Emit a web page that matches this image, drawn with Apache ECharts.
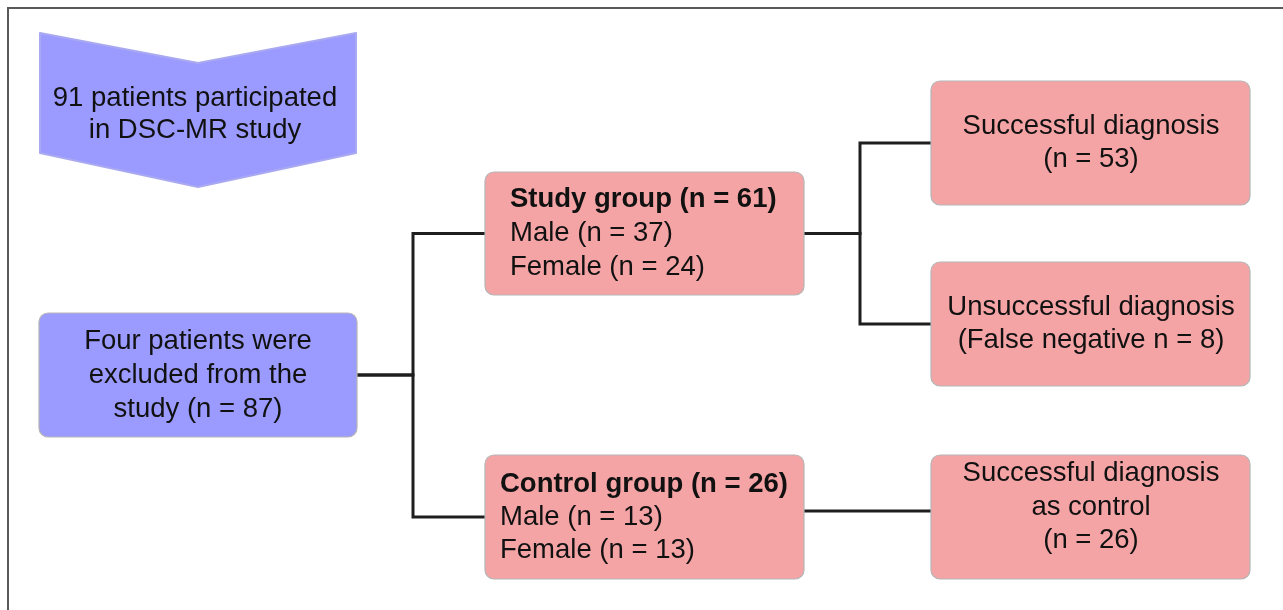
<!DOCTYPE html>
<html>
<head>
<meta charset="utf-8">
<script src="https://cdn.jsdelivr.net/npm/echarts@6/dist/echarts.min.js"></script>
<style>html,body{margin:0;padding:0;background:#fff}#c{width:1283px;height:610px}</style>
</head>
<body>
<div id="c"></div>
<script>
// ---- data (texts and counts) ----
const cohortText = ['91 patients participated', 'in DSC-MR study'];
const excludedText = ['Four patients were', 'excluded from the', 'study (n = 87)'];
const groupNames = ['Study group', 'Control group'];
const groupTotals = [61, 26];
const maleCounts = [37, 13];
const femaleCounts = [24, 13];
const outcomeLabels = [['Successful diagnosis'], ['Unsuccessful diagnosis'], ['Successful diagnosis', 'as control']];
const outcomePrefix = ['(n = ', '(False negative n = ', '(n = '];
const outcomeCounts = [53, 8, 26];

// ---- node texts built from data ----
const nodeTexts = [
  cohortText.join('\n'),
  excludedText.join('\n'),
  '{b|' + groupNames[0] + ' (n = ' + groupTotals[0] + ')}\nMale (n = ' + maleCounts[0] + ')\nFemale (n = ' + femaleCounts[0] + ')',
  '{b|' + groupNames[1] + ' (n = ' + groupTotals[1] + ')}\nMale (n = ' + maleCounts[1] + ')\nFemale (n = ' + femaleCounts[1] + ')',
  outcomeLabels[0].concat([outcomePrefix[0] + outcomeCounts[0] + ')']).join('\n'),
  outcomeLabels[1].concat([outcomePrefix[1] + outcomeCounts[1] + ')']).join('\n'),
  outcomeLabels[2].concat([outcomePrefix[2] + outcomeCounts[2] + ')']).join('\n')
];

// ---- layout (positions, sizes, styles) ----
const BLUE = '#9a9aff', PINK = '#f5a4a6', EDGE = '#b5b5b5';
const layout = [
  { x0: 40, y0: 33, x1: 356, y1: 187, shape: 'chevron', notch: 30, tip: 34, fill: BLUE, tx: 195, ty: 114, align: 'center', lh: 32 },
  { x0: 39, y0: 313, x1: 357, y1: 437, fill: BLUE, tx: 198, ty: 375, align: 'center', lh: 34 },
  { x0: 485, y0: 172, x1: 804, y1: 295, fill: PINK, tx: 510, ty: 233, align: 'left', lh: 34 },
  { x0: 485, y0: 455, x1: 804, y1: 579, fill: PINK, tx: 500, ty: 517, align: 'left', lh: 33 },
  { x0: 931, y0: 81, x1: 1250, y1: 205, fill: PINK, tx: 1091, ty: 143, align: 'center', lh: 33 },
  { x0: 931, y0: 262, x1: 1250, y1: 386, fill: PINK, tx: 1091, ty: 324, align: 'center', lh: 33 },
  { x0: 931, y0: 455, x1: 1250, y1: 579, fill: PINK, tx: 1091, ty: 507, align: 'center', lh: 33.5 }
];
// edges: [from, to, elbowX, portY (optional)]
const edges = [
  [1, 2, 413], [1, 3, 413], [2, 4, 860], [2, 5, 860], [3, 6, null, 511]
];
const frame = [[8, 610], [8, 8], [1283, 8]];
const FONT = 'Liberation Sans, Arial, sans-serif';

const chart = echarts.init(document.getElementById('c'), null, { renderer: 'canvas' });

function boxItem(params, api) {
  const n = layout[api.value(0)];
  const a = api.coord([n.x0, n.y0]), b = api.coord([n.x1, n.y1]);
  let shape;
  if (n.shape === 'chevron') {
    const pts = [[n.x0, n.y0], [(n.x0 + n.x1) / 2, n.y0 + n.notch], [n.x1, n.y0], [n.x1, n.y1 - n.tip], [(n.x0 + n.x1) / 2, n.y1], [n.x0, n.y1 - n.tip]].map(p => api.coord(p));
    shape = { type: 'polygon', shape: { points: pts }, style: { fill: n.fill, stroke: '#a9a9f2', lineWidth: 2, lineJoin: 'round' } };
  } else {
    shape = { type: 'rect', shape: { x: a[0], y: a[1], width: b[0] - a[0], height: b[1] - a[1], r: 9 }, style: { fill: n.fill, stroke: EDGE, lineWidth: 1.2 } };
  }
  const t = api.coord([n.tx, n.ty]);
  const text = {
    type: 'text',
    style: {
      x: t[0], y: t[1], text: nodeTexts[api.value(0)],
      fontFamily: FONT, fontSize: 27.5, lineHeight: n.lh,
      fill: '#111111', align: n.align, verticalAlign: 'middle',
      rich: { b: { fontWeight: 'bold', fontSize: 27.5, lineHeight: n.lh, fontFamily: FONT, fill: '#111111' } }
    }
  };
  return { type: 'group', children: [shape, text] };
}

function edgeItem(params, api) {
  const e = edges[api.value(0)];
  const s = layout[e[0]], d = layout[e[1]];
  let pts;
  if (e[2] == null) {
    const y = e[3];
    pts = [[s.x1, y], [d.x0, y]];
  } else {
    const sy = (s.y0 + s.y1) / 2, dy = (d.y0 + d.y1) / 2;
    pts = [[s.x1, sy], [e[2], sy], [e[2], dy], [d.x0, dy]];
  }
  return { type: 'polyline', shape: { points: pts.map(p => api.coord(p)) }, style: { stroke: '#1e1e1e', lineWidth: 3, fill: null, lineJoin: 'miter' } };
}

function frameItem(params, api) {
  return { type: 'polyline', shape: { points: frame.map(p => api.coord(p)) }, style: { stroke: '#5a5a5a', lineWidth: 2, fill: null } };
}

chart.setOption({
  animation: false,
  backgroundColor: '#ffffff',
  grid: { left: 0, right: 0, top: 0, bottom: 0 },
  xAxis: { type: 'value', min: 0, max: 1283, show: false },
  yAxis: { type: 'value', min: 0, max: 610, inverse: true, show: false },
  series: [
    { type: 'custom', renderItem: frameItem, data: [[0]], silent: true },
    { type: 'custom', renderItem: edgeItem, data: edges.map((e, i) => [i]), silent: true },
    { type: 'custom', renderItem: boxItem, data: layout.map((n, i) => [i]), silent: true }
  ]
});
</script>
</body>
</html>
